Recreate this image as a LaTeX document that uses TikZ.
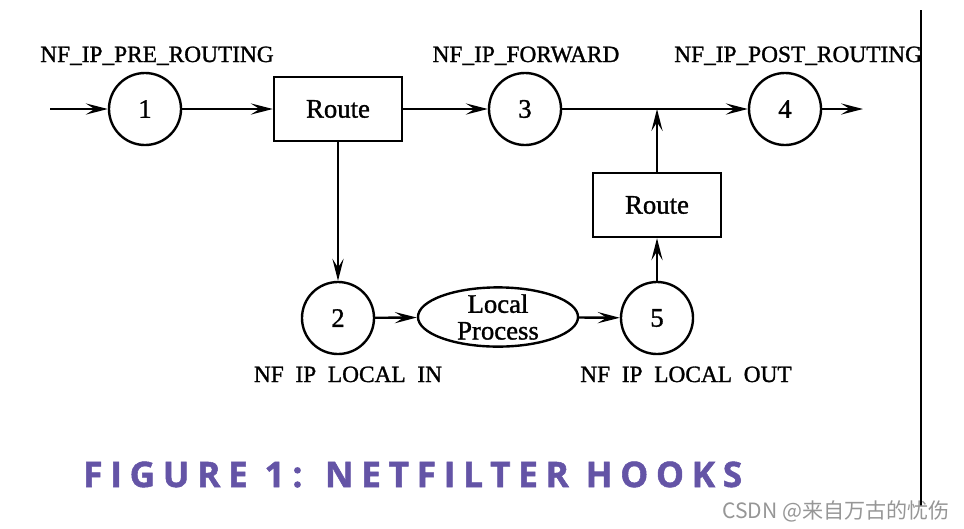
\documentclass[tikz,border=0pt]{standalone}
\usepackage{fontspec}
\setmainfont{Liberation Serif}
\newfontfamily\figfont[BoldFont=Liberation Serif, BoldFeatures={FakeBold=1.2}]{Liberation Serif}
\newfontfamily\capfont[LetterSpace=22, BoldFeatures={FakeBold=1.5}]{Open Sans}
\newfontfamily\cjkfont{Noto Sans CJK SC}
\usetikzlibrary{arrows.meta,shapes.geometric}

\definecolor{capviolet}{RGB}{100,84,166}
\definecolor{markgray}{RGB}{150,150,150}

\tikzset{
  hook/.style={draw, circle, line width=1.7pt, minimum size=1.8cm, inner sep=0pt,
    font=\figfont\bfseries\fontsize{19}{20}\selectfont},
  routebox/.style={draw, rectangle, line width=1.7pt, minimum width=3.2cm,
    minimum height=1.6cm, inner sep=0pt, font=\figfont\bfseries\fontsize{19}{20}\selectfont},
  proc/.style={draw, ellipse, line width=1.7pt, minimum width=4cm,
    minimum height=1.48cm, inner sep=0pt},
  hooklabel/.style={font=\figfont\bfseries\fontsize{16.6}{18}\selectfont, inner sep=0pt},
  flow/.style={line width=1.7pt, -{Stealth[length=5.5mm,width=2.8mm,inset=2.2mm]}}
}

\begin{document}
\begin{tikzpicture}[x=0.025cm,y=-0.025cm]
\useasboundingbox (0,0) rectangle (964,528);

% hooks and boxes
\node [hook] (h1) at (145,109) {1};
\node [routebox] (rt1) at (338,109) {Route};
\node [hook] (h3) at (525,109) {3};
\node [hook] (h4) at (785,109) {4};
\node [routebox] (rt2) at (657,205) {Route};
\node [hook] (h2) at (338,318) {2};
\node [proc] (lp) at (498,317) {};
\node [font=\figfont\bfseries\fontsize{19}{19}\selectfont, align=center, inner sep=0pt] (lptxt) at (lp) {Local\\Process};
\node [hook] (h5) at (657,318) {5};

\coordinate (in) at (50,109);
\coordinate (out) at (863,109);
\coordinate (jn) at (657,109);

% hook names
\node [hooklabel, anchor=base] (n1) at (157,62) {NF\_IP\_PRE\_ROUTING};
\node [hooklabel, anchor=base] (n3) at (526,62) {NF\_IP\_FORWARD};
\node [hooklabel, anchor=base west] (n4) at (674,62) {NF\_IP\_POST\_ROUTING};
\node [hooklabel, anchor=base] (n2) at (348,382) {NF\hspace{0.5em}IP\hspace{0.5em}LOCAL\hspace{0.5em}IN};
\node [hooklabel, anchor=base] (n5) at (686,382) {NF\hspace{0.5em}IP\hspace{0.5em}LOCAL\hspace{0.5em}OUT};

% packet flow
\draw [flow] (in) -- (h1);
\draw [flow] (h1) -- (rt1);
\draw [flow] (rt1) -- (h3);
\draw [flow] (h3) -- (h4);
\draw [flow] (h4) -- (out);
\draw [flow] (rt1) -- (h2);
\draw [flow] (h2) -- (lp);
\draw [flow] (lp) -- (h5);
\draw [flow] (h5) -- (rt2);
\draw [flow] (rt2) -- (jn);

% caption, rule and mark
\node [anchor=base west, inner sep=0pt, text=capviolet, font=\capfont\bfseries\fontsize{25}{28}\selectfont] (cap) at (83,487) {FIGURE 1: NETFILTER HOOKS};
\draw [line width=1.5pt] (921,10) -- (921,506);
\node [anchor=base east, inner sep=0pt, text=markgray, font=\cjkfont\fontsize{15}{16}\selectfont] (mark) at (950,518) {CSDN @来自万古的忧伤};

\end{tikzpicture}
\end{document}
